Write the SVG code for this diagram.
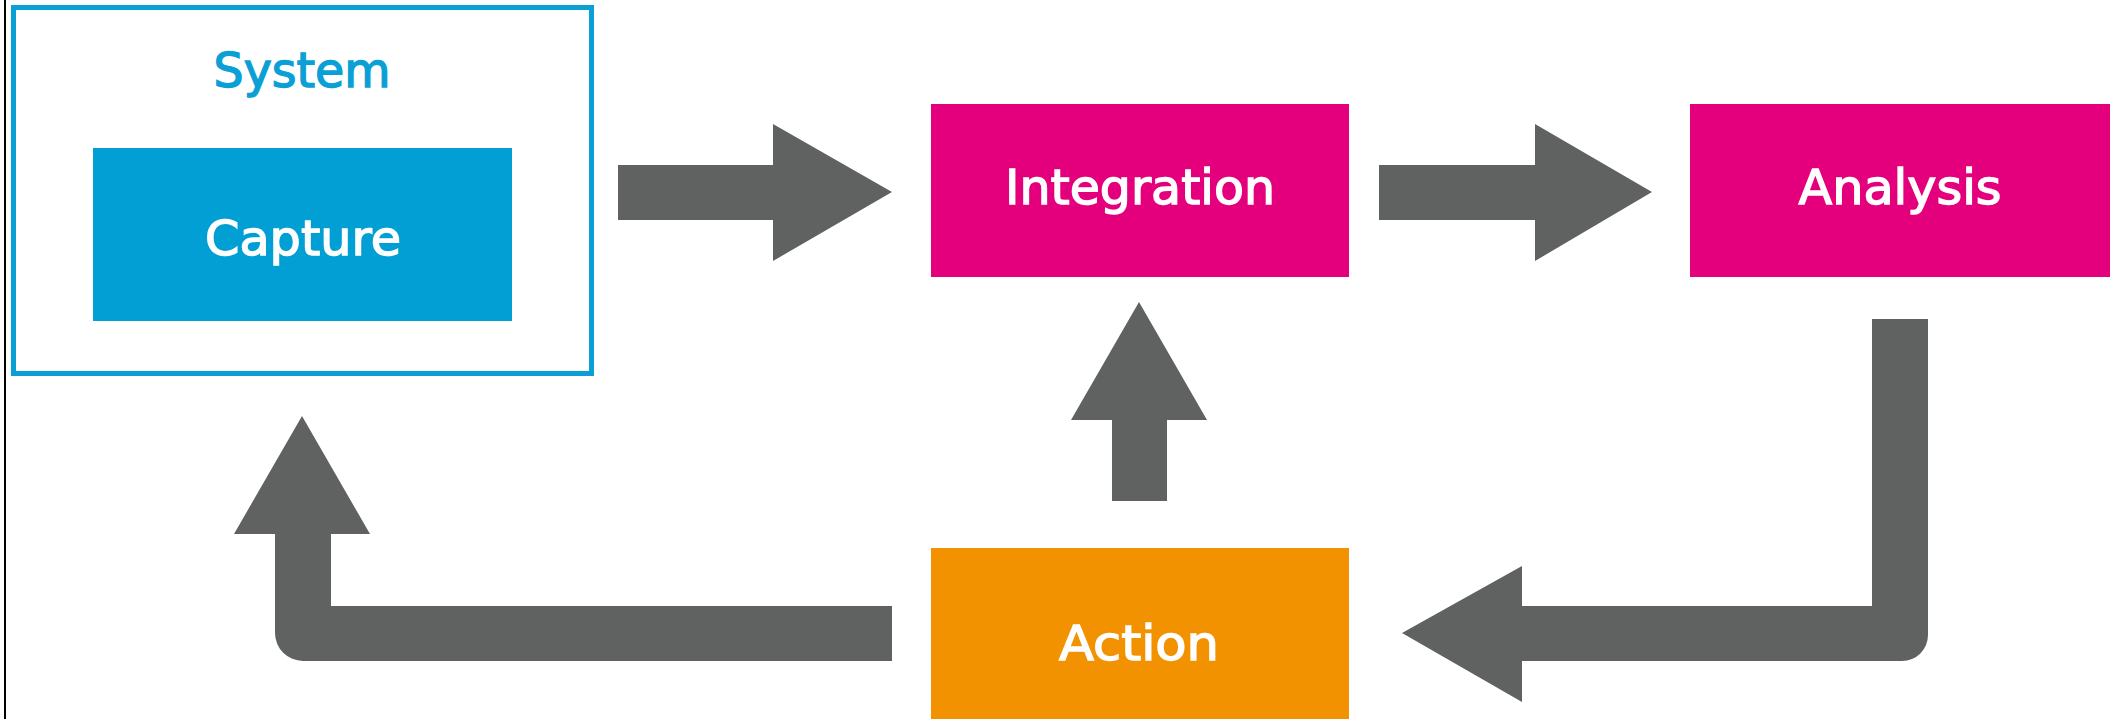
<svg xmlns="http://www.w3.org/2000/svg" width="2116" height="719" viewBox="0 0 2116 719">
  <style>
    .lbl { font-family: "DejaVu Sans", "Liberation Sans", sans-serif; font-weight: normal; font-size: 48px; text-anchor: middle; fill: #ffffff; stroke: #ffffff; stroke-width: 1.4px; }
    .sys { fill: #0aa0d5; stroke: #0aa0d5; }
    .arrow { fill: #5f6261; }
  </style>
  <rect x="0" y="0" width="2116" height="719" fill="#ffffff"/>
  <line x1="5" y1="0" x2="5" y2="719" stroke="#000000" stroke-width="2"/>

  <g id="system">
    <rect x="13.5" y="7.5" width="578" height="366" fill="none" stroke="#0aa0d5" stroke-width="5"/>
    <text class="lbl sys" x="302" y="87" textLength="177" lengthAdjust="spacingAndGlyphs">System</text>
  </g>
  <g id="capture">
    <rect x="93" y="148" width="419" height="173" fill="#029fd4"/>
    <text class="lbl" x="303" y="255" textLength="196" lengthAdjust="spacingAndGlyphs">Capture</text>
  </g>
  <g id="integration">
    <rect x="931" y="104" width="418" height="173" fill="#e4007d"/>
    <text class="lbl" x="1140" y="204" textLength="270" lengthAdjust="spacingAndGlyphs">Integration</text>
  </g>
  <g id="analysis">
    <rect x="1690" y="104" width="420" height="173" fill="#e4007d"/>
    <text class="lbl" x="1900" y="204" textLength="203" lengthAdjust="spacingAndGlyphs">Analysis</text>
  </g>
  <g id="action">
    <rect x="931" y="548" width="418" height="171" fill="#f39200"/>
    <text class="lbl" x="1139" y="660" textLength="160" lengthAdjust="spacingAndGlyphs">Action</text>
  </g>

  <g id="connectors">
    <polygon class="arrow" points="618,165 773,165 773,124 892,192 773,261 773,220 618,220"/>
    <polygon class="arrow" points="1379,165 1535,165 1535,124 1652,192 1535,261 1535,220 1379,220"/>
    <polygon class="arrow" points="1139,302 1207,420 1167,420 1167,501 1112,501 1112,420 1071,420"/>
    <path class="arrow" d="M892,606 L331,606 L331,534 L370,534 L302,416 L234,534 L275,534 L275,633 A28,28 0 0 0 303,661 L892,661 Z"/>
    <path class="arrow" d="M1872,319 L1928,319 L1928,635 A26,26 0 0 1 1902,661 L1522,661 L1522,702 L1402,633 L1522,566 L1522,606 L1872,606 Z"/>
  </g>
</svg>
